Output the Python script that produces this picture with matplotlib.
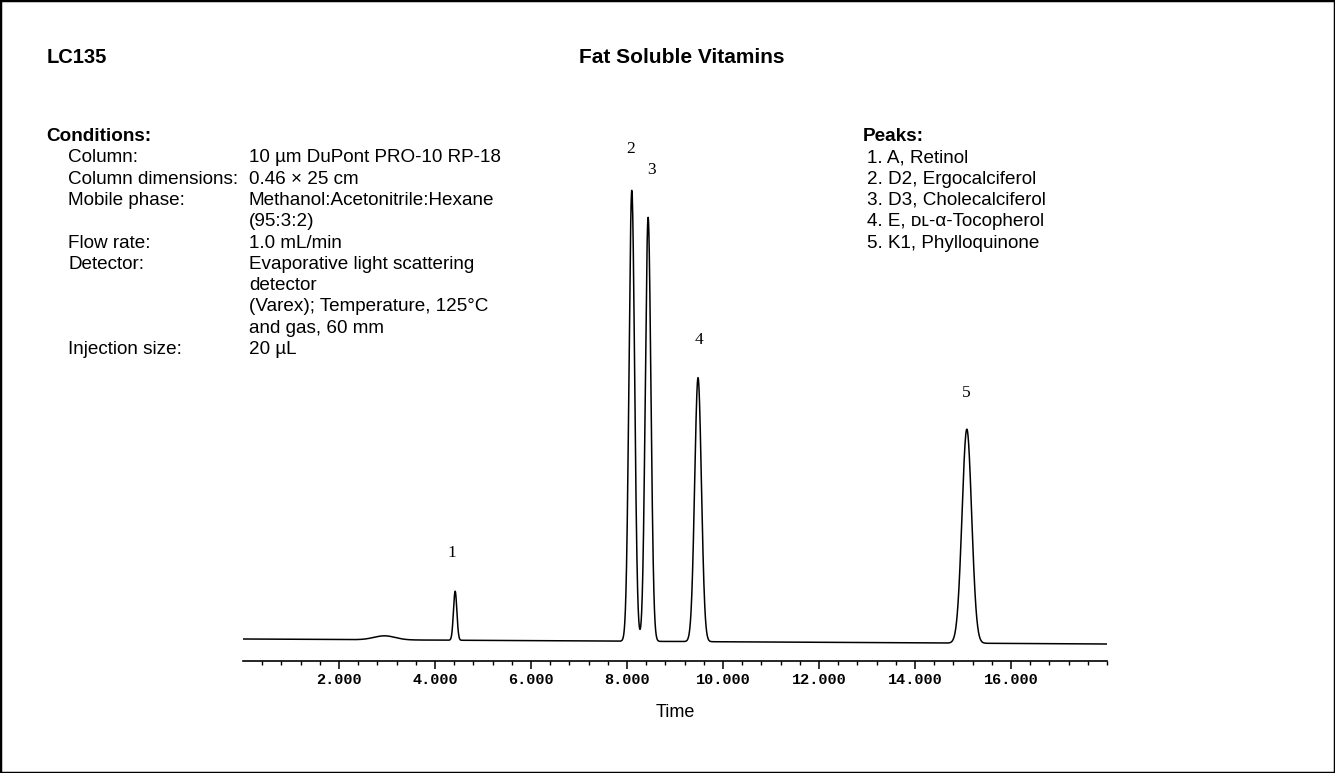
import numpy as np
import matplotlib
matplotlib.use('Agg')
import matplotlib.pyplot as plt
from matplotlib.patches import Rectangle
from matplotlib.ticker import FixedLocator

plt.rcParams['font.family'] = ['Liberation Sans', 'DejaVu Sans']

# peaks: retention time (min), height above baseline, sigma (min)
peak_ids = ['1', '2', '3', '4', '5']
peak_times = [4.42, 8.10, 8.44, 9.48, 15.08]
peak_heights = [49, 451, 424, 264, 214]
peak_sigmas = [0.035, 0.058, 0.058, 0.07, 0.10]
label_times = [4.35, 8.08, 8.50, 9.50, 15.06]
label_levels = [86, 490, 469, 299, 246]

# small solvent bump before peak 1
bump_time = 2.95
bump_height = 4
bump_sigma = 0.22

# baseline level at start and end of the run
baseline_start = 0.0
baseline_end = -5.0
run_end = 18.0

major_ticks = [2, 4, 6, 8, 10, 12, 14, 16]
tick_labels = ['2.000', '4.000', '6.000', '8.000', '10.000', '12.000', '14.000', '16.000']
minor_ticks = [0.4 * k for k in range(1, 46)]

cond_labels = ['Column:', 'Column dimensions:', 'Mobile phase:', '', 'Flow rate:',
               'Detector:', '', '', '', 'Injection size:']
cond_values = ['10 \u00b5m DuPont PRO-10 RP-18', '0.46 \u00d7 25 cm',
               'Methanol:Acetonitrile:Hexane', '(95:3:2)', '1.0 mL/min',
               'Evaporative light scattering', 'detector',
               '(Varex); Temperature, 125\u00b0C', 'and gas, 60 mm', '20 \u00b5L']
peak_names = ['1. A, Retinol', '2. D2, Ergocalciferol', '3. D3, Cholecalciferol',
              '4. E, \u1d05\u029f-\u03b1-Tocopherol', '5. K1, Phylloquinone']

W, H = 1335, 773
fig = plt.figure(figsize=(W / 100, H / 100), dpi=100)
fig.patches.append(Rectangle((0, 0), 1, 1, transform=fig.transFigure,
                             fill=False, lw=2.5, ec='black'))

# axis from x=243 to 1107 px, bottom spine at y=661 px
ax = fig.add_axes([243 / W, (H - 661) / H, 864 / W, 522 / H])
t = np.linspace(0, run_end, 6000)
signal = baseline_start + (baseline_end - baseline_start) * t / run_end
signal = signal + bump_height * np.exp(-0.5 * ((t - bump_time) / bump_sigma) ** 2)
for tr, h, s in zip(peak_times, peak_heights, peak_sigmas):
    signal = signal + h * np.exp(-0.5 * ((t - tr) / s) ** 2)
ax.plot(t, signal, color='black', lw=1.1)

for lab, lt, lv in zip(peak_ids, label_times, label_levels):
    ax.text(lt, lv, lab, ha='center', va='center', fontsize=12.5,
            family=['Liberation Serif', 'DejaVu Serif'], clip_on=False)

ax.set_xlim(0, run_end)
ax.set_ylim(-22, 500)
for side in ['left', 'right', 'top']:
    ax.spines[side].set_visible(False)
ax.spines['bottom'].set_linewidth(1.2)
ax.set_yticks([])
ax.xaxis.set_major_locator(FixedLocator(major_ticks))
ax.xaxis.set_minor_locator(FixedLocator(minor_ticks))
ax.set_xticklabels(tick_labels, family=['Liberation Mono', 'DejaVu Sans Mono'],
                   fontweight='bold', fontsize=11)
ax.tick_params(axis='x', which='major', length=6, width=1.1, direction='out', pad=3)
ax.tick_params(axis='x', which='minor', length=3, width=1.0, direction='out')
ax.set_xlabel('Time', fontsize=13, labelpad=12)

# header and text blocks (figure pixel coordinates, baselines)
def ftext(x, y, s, **kw):
    fig.text(x / W, 1 - y / H, s, va='baseline', ha='left', **kw)

body = 13.6
ftext(47, 63, 'LC135', fontsize=14.5, fontweight='bold')
fig.text(682 / W, 1 - 63 / H, 'Fat Soluble Vitamins', ha='center', va='baseline',
         fontsize=15, fontweight='bold')

row0 = 141
step = 21.3
ftext(46, row0, 'Conditions:', fontsize=body, fontweight='bold')
for i, (lab, val) in enumerate(zip(cond_labels, cond_values)):
    y = row0 + step * (i + 1)
    if lab:
        ftext(68, y, lab, fontsize=body)
    ftext(249, y, val, fontsize=body)

ftext(863, row0, 'Peaks:', fontsize=body, fontweight='bold')
for i, name in enumerate(peak_names):
    ftext(867, row0 + step * (i + 1), name, fontsize=body)

fig.savefig('out.png', dpi=100)
